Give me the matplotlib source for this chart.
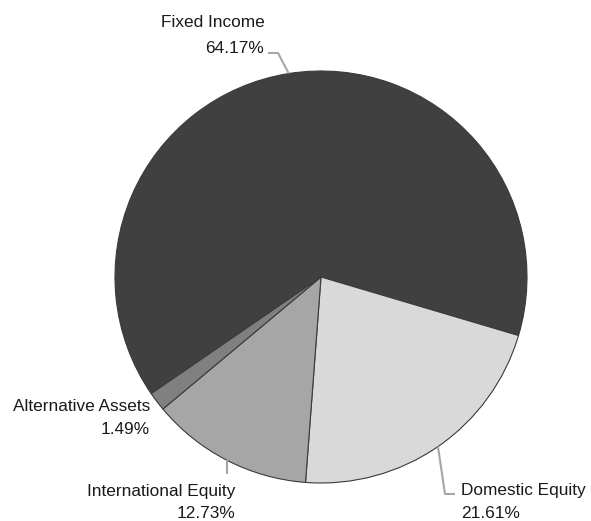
import matplotlib
matplotlib.use("Agg")
import matplotlib.pyplot as plt
import numpy as np

names = ["Fixed Income", "Domestic Equity", "International Equity", "Alternative Assets"]
values = [64.17, 21.61, 12.73, 1.49]
pct_labels = ["64.17%", "21.61%", "12.73%", "1.49%"]
colors = ["#404040", "#d9d9d9", "#a6a6a6", "#808080"]

fam = ["Liberation Sans", "DejaVu Sans"]

W, H = 591, 521
fig = plt.figure(figsize=(W / 100, H / 100), dpi=100)
ax = fig.add_axes([0, 0, 1, 1])

cx, cy, R = 321, H - 277, 206
start = 214.5
wedges, _ = ax.pie(values, colors=colors, startangle=start, counterclock=False,
                   radius=R, center=(cx, cy), frame=True,
                   wedgeprops=dict(edgecolor="#3a3a3a", linewidth=0.8))
ax.set_xlim(0, W)
ax.set_ylim(0, H)
ax.axis("off")

def anchor(w):
    a = np.deg2rad((w.theta1 + w.theta2) / 2)
    return cx + R * np.cos(a), cy + R * np.sin(a)

lc = "#a6a6a6"
fs = 12.4
tk = dict(fontsize=fs, family=fam, color="#1a1a1a")

# Fixed Income
x0, y0 = anchor(wedges[0])
ax.plot([x0, 278, 268], [y0, H - 53, H - 53], color=lc, lw=1.5, solid_capstyle="butt")
ax.text(265, H - 27, names[0], ha="right", va="baseline", **tk)
ax.text(264, H - 53, pct_labels[0], ha="right", va="baseline", **tk)

# Domestic Equity
x0, y0 = anchor(wedges[1])
ax.plot([x0, 445, 455], [y0, H - 494, H - 494], color=lc, lw=1.5, solid_capstyle="butt")
ax.text(461, H - 495, names[1], ha="left", va="baseline", **tk)
ax.text(461, H - 518, pct_labels[1], ha="left", va="baseline", **tk)

# International Equity
x0, y0 = anchor(wedges[2])
ax.plot([x0, x0], [y0, H - 474], color=lc, lw=1.5, solid_capstyle="butt")
ax.text(235, H - 496, names[2], ha="right", va="baseline", **tk)
ax.text(235, H - 518, pct_labels[2], ha="right", va="baseline", **tk)

# Alternative Assets
ax.text(150, H - 411, names[3], ha="right", va="baseline", **tk)
ax.text(150, H - 434, pct_labels[3], ha="right", va="baseline", **tk)

fig.savefig("out.png", dpi=100)
